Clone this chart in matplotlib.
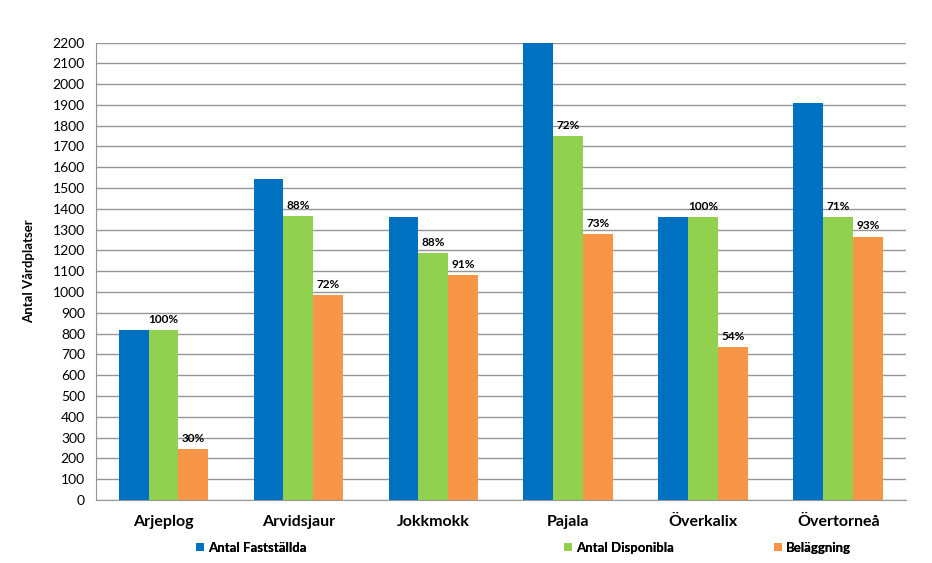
import matplotlib.pyplot as plt
import numpy as np

plt.rcParams['font.family'] = ['Lato', 'DejaVu Sans']

categories = ['Arjeplog', 'Arvidsjaur', 'Jokkmokk', 'Pajala', 'Överkalix', 'Övertorneå']
faststallda = [818, 1545, 1362, 2430, 1362, 1910]
disponibla = [818, 1367, 1189, 1748, 1362, 1362]
belaggning = [245, 984, 1083, 1280, 737, 1267]
disp_pct = ['100%', '88%', '88%', '72%', '100%', '71%']
bel_pct = ['30%', '72%', '91%', '73%', '54%', '93%']
yticks = list(range(0, 2201, 100))

c_blue = '#0070C0'
c_green = '#92D050'
c_orange = '#F79646'

fig = plt.figure(figsize=(9.32, 5.63), dpi=100)
ax = fig.add_axes([0.103, 0.112, 0.869, 0.8125])

x = np.arange(len(categories))
w = 0.222
b1 = ax.bar(x - w, faststallda, w, color=c_blue, label='Antal Fastställda', zorder=3)
b2 = ax.bar(x, disponibla, w, color=c_green, label='Antal Disponibla', zorder=3)
b3 = ax.bar(x + w, belaggning, w, color=c_orange, label='Beläggning', zorder=3)

for xi, v, t in zip(x, disponibla, disp_pct):
    ax.text(xi, v + 25, t, ha='center', va='bottom', fontsize=8.5, fontweight='bold', zorder=4)
for xi, v, t in zip(x, belaggning, bel_pct):
    ax.text(xi + w, v + 25, t, ha='center', va='bottom', fontsize=8.5, fontweight='bold', zorder=4)

ax.set_xlim(-0.5, len(categories) - 0.5)
ax.set_ylim(0, 2200)
ax.set_yticks(yticks)
ax.yaxis.grid(True, color='#969696', linewidth=1.0, zorder=0)
ax.set_xticks(x)
ax.set_xticklabels(categories, fontsize=11.5, fontweight='bold')
ax.tick_params(axis='both', length=0)
ax.tick_params(axis='x', pad=11)
ax.tick_params(axis='y', labelsize=10, pad=8)
for s in ['top', 'right']:
    ax.spines[s].set_visible(False)
ax.spines['left'].set_color('#969696')
ax.spines['bottom'].set_color('#969696')
ax.set_ylabel('Antal Vårdplatser', fontsize=9.5, fontweight='bold', labelpad=13)

# legend entries placed separately like the original
for h, xpos in zip([b1, b2, b3], [0.205, 0.600, 0.825]):
    leg = fig.legend(handles=[h], loc='center left', bbox_to_anchor=(xpos, 0.027),
                     frameon=False, handlelength=0.6, handleheight=0.6,
                     handletextpad=0.3, borderaxespad=0,
                     prop={'size': 9.5, 'weight': 'bold'})
    fig.add_artist(leg)

fig.savefig('out.png', dpi=100)
